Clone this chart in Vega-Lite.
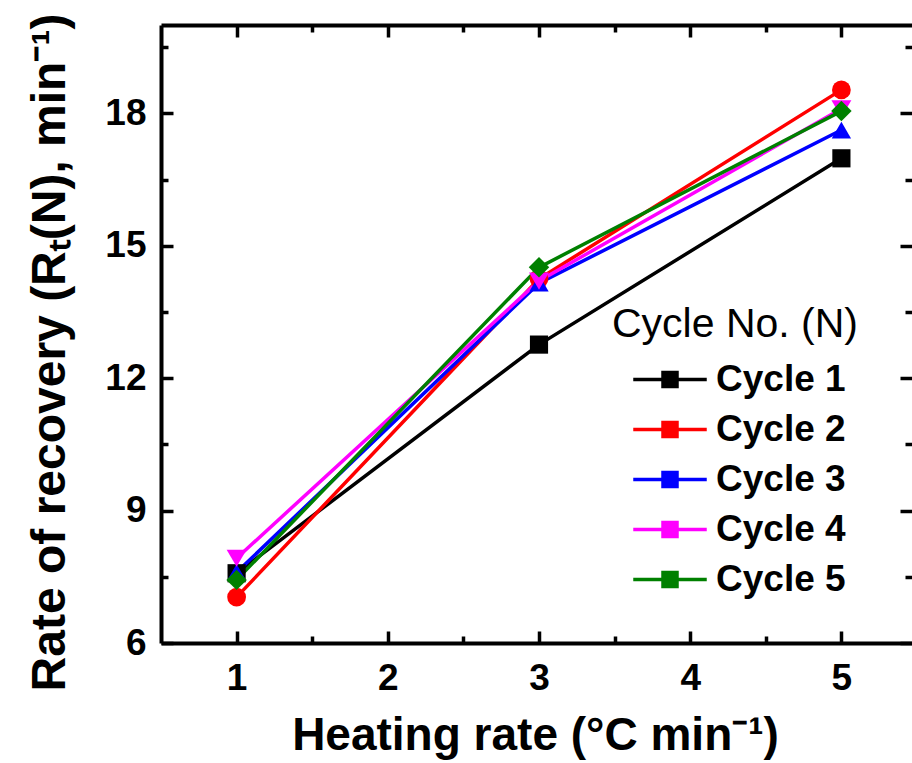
{
  "$schema": "https://vega.github.io/schema/vega-lite/v6.json",
  "width": 751,
  "height": 618,
  "autosize": {"type": "none"},
  "padding": {"left": 161, "top": 25, "right": 0, "bottom": 120},
  "background": "white",
  "config": {
    "view": {"stroke": null},
    "font": "Liberation Sans",
    "axis": {
      "grid": false,
      "domainColor": "black",
      "domainWidth": 4,
      "tickColor": "black",
      "tickWidth": 3.5,
      "tickSize": -12,
      "labelColor": "black",
      "titleColor": "black",
      "labelFont": "Liberation Sans",
      "labelFontWeight": "bold",
      "labelFontSize": 37,
      "titleFont": "Liberation Sans",
      "titleFontWeight": "bold",
      "titleFontSize": 46,
      "labelOverlap": false,
      "labelFlush": false,
      "format": "d"
    }
  },
  "data": {
    "values": [
      {"rate": 1, "cycle": "Cycle 1", "value": 7.58},
      {"rate": 3, "cycle": "Cycle 1", "value": 12.76},
      {"rate": 5, "cycle": "Cycle 1", "value": 16.98},
      {"rate": 1, "cycle": "Cycle 2", "value": 7.04},
      {"rate": 3, "cycle": "Cycle 2", "value": 14.25},
      {"rate": 5, "cycle": "Cycle 2", "value": 18.53},
      {"rate": 1, "cycle": "Cycle 3", "value": 7.6},
      {"rate": 3, "cycle": "Cycle 3", "value": 14.15},
      {"rate": 5, "cycle": "Cycle 3", "value": 17.62},
      {"rate": 1, "cycle": "Cycle 4", "value": 7.92},
      {"rate": 3, "cycle": "Cycle 4", "value": 14.2},
      {"rate": 5, "cycle": "Cycle 4", "value": 18.1},
      {"rate": 1, "cycle": "Cycle 5", "value": 7.43},
      {"rate": 3, "cycle": "Cycle 5", "value": 14.51},
      {"rate": 5, "cycle": "Cycle 5", "value": 18.05}
    ]
  },
  "encoding": {
    "color": {
      "field": "cycle", "type": "nominal",
      "scale": {"domain": ["Cycle 1", "Cycle 2", "Cycle 3", "Cycle 4", "Cycle 5"], "range": ["#000000", "#ff0000", "#0000ff", "#ff00ff", "#008000"]},
      "legend": {
        "orient": "none",
        "legendX": 451,
        "legendY": 280,
        "padding": 0,
        "title": "Cycle No. (N)",
        "titleFont": "Liberation Sans",
        "titleFontSize": 41,
        "titleFontWeight": "normal",
        "titleColor": "black",
        "titleLimit": 500,
        "titlePadding": 15,
        "labelFont": "Liberation Sans",
        "labelFontSize": 37,
        "labelFontWeight": "bold",
        "labelColor": "black",
        "labelOffset": 67,
        "labelLimit": 400,
        "rowPadding": 12,
        "symbolSize": 4,
        "symbolStrokeWidth": 1.5,
        "symbolOpacity": 1,
        "symbolType": "M3.5,-1H75.5V1H3.5Z M31.5,-8H47.5V8H31.5Z M33,-6.5H46V6.5H33Z M34.5,-5H44.5V5H34.5Z M36,-3.5H43V3.5H36Z M37.5,-2H41.5V2H37.5Z"
      }
    }
  },
  "layer": [
    {
      "mark": {"type": "line", "strokeWidth": 3.5},
      "encoding": {
        "x": {
          "field": "rate", "type": "quantitative",
          "scale": {"domain": [0.5, 5.5], "range": [0, 756], "nice": false, "zero": false},
          "axis": {
            "orient": "bottom",
            "title": "Heating rate (°C min⁻¹)",
            "values": [1, 2, 3, 4, 5],
            "labelPadding": 29,
            "titleX": 374,
            "titleY": 92,
            "titleBaseline": "middle",
            "titleAlign": "center"
          }
        },
        "y": {
          "field": "value", "type": "quantitative",
          "scale": {"domain": [6, 20], "nice": false, "zero": false},
          "axis": {
            "orient": "left",
            "title": "Rate of recovery (Rₜ(N), min⁻¹)",
            "titleFontSize": 48,
            "values": [6, 9, 12, 15, 18],
            "labelPadding": 27,
            "titleAngle": -90,
            "titleX": -111,
            "titleY": 327,
            "titleBaseline": "middle",
            "titleAlign": "center"
          }
        }
      }
    },
    {
      "mark": {"type": "point", "filled": true, "opacity": 1},
      "encoding": {
        "x": {
          "field": "rate", "type": "quantitative",
          "axis": {"orient": "top", "title": null, "labels": false, "values": [1, 2, 3, 4, 5]}
        },
        "y": {
          "field": "value", "type": "quantitative",
          "axis": {"orient": "right", "title": null, "labels": false, "domain": false, "values": [6, 9, 12, 15, 18]}
        },
        "shape": {
          "field": "cycle", "type": "nominal",
          "scale": {"domain": ["Cycle 1", "Cycle 2", "Cycle 3", "Cycle 4", "Cycle 5", "none"], "range": ["square", "circle", "triangle-up", "triangle-down", "diamond", "circle"]},
          "legend": null
        },
        "size": {
          "field": "cycle", "type": "nominal",
          "scale": {"domain": ["Cycle 1", "Cycle 2", "Cycle 3", "Cycle 4", "Cycle 5", "none"], "range": [330, 440, 580, 580, 560, 400]},
          "legend": null
        }
      }
    },
    {
      "mark": {"type": "point", "opacity": 0},
      "encoding": {
        "x": {
          "field": "rate", "type": "quantitative",
          "axis": {"orient": "bottom", "title": null, "labels": false, "domain": false, "tickSize": -7, "values": [1.5, 2.5, 3.5, 4.5, 5.5]}
        },
        "y": {
          "field": "value", "type": "quantitative",
          "axis": {"orient": "left", "title": null, "labels": false, "domain": false, "tickSize": -7, "values": [7.5, 10.5, 13.5, 16.5, 19.5]}
        }
      }
    },
    {
      "mark": {"type": "point", "opacity": 0},
      "encoding": {
        "x": {
          "field": "rate", "type": "quantitative",
          "axis": {"orient": "top", "title": null, "labels": false, "domain": false, "tickSize": -7, "values": [1.5, 2.5, 3.5, 4.5, 5.5]}
        },
        "y": {
          "field": "value", "type": "quantitative",
          "axis": {"orient": "right", "title": null, "labels": false, "domain": false, "tickSize": -7, "values": [7.5, 10.5, 13.5, 16.5, 19.5]}
        }
      }
    }
  ],
  "resolve": {"axis": {"x": "independent", "y": "independent"}}
}
